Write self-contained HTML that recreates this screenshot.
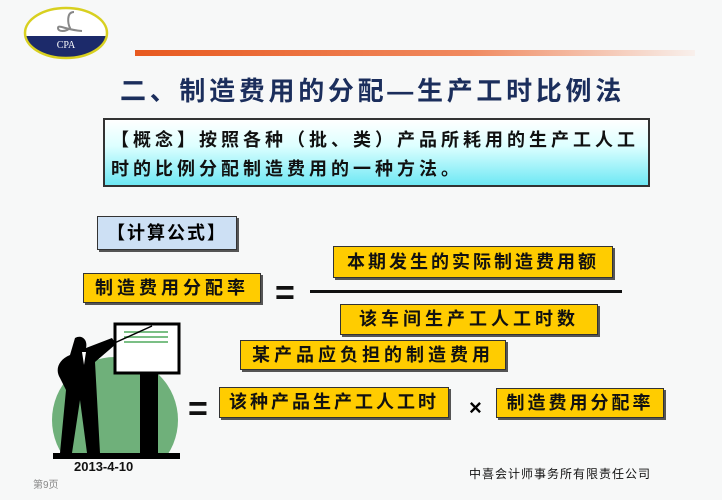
<!DOCTYPE html>
<html><head><meta charset="utf-8"><style>
body{margin:0;width:722px;height:500px;overflow:hidden;background:#f7f8f8;font-family:"Liberation Sans","Noto Sans CJK SC",sans-serif;position:relative}
.a{position:absolute}
.y{position:absolute;background:#fc0;border:1px solid #333;box-shadow:2px 2px 0 #555;font-weight:bold;font-size:18px;color:#111;text-align:center;box-sizing:border-box;letter-spacing:4px;white-space:nowrap}
.eq{position:absolute;font-size:34px;font-weight:bold;color:#111;line-height:1}
</style></head><body>
<svg class="a" style="left:0;top:0" width="722" height="500">
<defs><linearGradient id="o" x1="0" x2="1"><stop offset="0" stop-color="#e85a20"/><stop offset="0.6" stop-color="#f08a60"/><stop offset="1" stop-color="#f8f0ec"/></linearGradient>
<clipPath id="c"><ellipse cx="66" cy="33" rx="41" ry="25"/></clipPath></defs>
<ellipse cx="66" cy="33" rx="41" ry="25" fill="#fff"/>
<rect x="20" y="36" width="100" height="30" fill="#1c2a6a" clip-path="url(#c)"/>
<ellipse cx="66" cy="33" rx="41" ry="25" fill="none" stroke="#d8d020" stroke-width="2.5"/>
<path d="M74 12 C66 12 68 24 70 28 C66 32 58 32 58 28 C58 24 66 30 82 31" fill="none" stroke="#888" stroke-width="2"/>
<text x="66" y="48" font-family="Liberation Serif" font-size="10" fill="#fff" text-anchor="middle">CPA</text>
<rect x="135" y="50" width="560" height="6" fill="url(#o)"/>
<line x1="32" y1="454" x2="692" y2="454" stroke="#ccc" stroke-width="1"/>
<circle cx="115" cy="420" r="63" fill="#6fb07a"/>
<rect x="0" y="453" width="722" height="47" fill="#f7f8f8"/>
<rect x="53" y="453" width="127" height="6" fill="#000"/>
<rect x="140" y="372" width="18" height="82" fill="#000"/>
<rect x="115" y="324" width="64" height="49" fill="#fff" stroke="#000" stroke-width="3"/>
<line x1="124" y1="332" x2="168" y2="332" stroke="#7bbf85" stroke-width="2"/>
<line x1="124" y1="337" x2="168" y2="337" stroke="#7bbf85" stroke-width="2"/>
<line x1="124" y1="342" x2="168" y2="342" stroke="#7bbf85" stroke-width="2"/>
<line x1="110" y1="345" x2="152" y2="326" stroke="#000" stroke-width="1.5"/>
<path d="M75 338 C82 334 88 340 86 348 L112 338 L116 344 L95 362 L100 453 L87 453 L80 400 L72 453 L60 453 L66 390 L60 378 C55 370 58 360 70 355 Z" fill="#000"/>
<path d="M82 352 L86 352 L84 365 Z" fill="#fff"/>
</svg>
<div class="a" style="left:120px;top:71px;font-size:26px;font-weight:bold;color:#1b2e5c;letter-spacing:3.7px;white-space:nowrap">二、制造费用的分配—生产工时比例法</div>
<div class="a" style="left:103px;top:118px;width:547px;height:69px;box-sizing:border-box;border:2px solid #333;background:linear-gradient(#fff,#dff 40%,#6ee8f4);font-size:18px;font-weight:bold;color:#111;padding:6px 0 0 6px;line-height:29px;letter-spacing:4px">【概念】按照各种（批、类）产品所耗用的生产工人工<br>时的比例分配制造费用的一种方法。</div>
<div class="a" style="left:97px;top:216px;width:140px;height:34px;box-sizing:border-box;border:1px solid #333;background:#cde0f4;box-shadow:2px 2px 0 #555;font-size:18px;font-weight:bold;line-height:32px;text-align:center;letter-spacing:2px">【计算公式】</div>
<div class="y" style="left:83px;top:273px;width:178px;height:30px;line-height:28px">制造费用分配率</div>
<div class="eq" style="left:275px;top:276px">=</div>
<div class="a" style="left:310px;top:290px;width:312px;height:3px;background:#111"></div>
<div class="y" style="left:333px;top:246px;width:280px;height:32px;line-height:30px;letter-spacing:3px">本期发生的实际制造费用额</div>
<div class="y" style="left:340px;top:304px;width:258px;height:31px;line-height:29px">该车间生产工人工时数</div>
<div class="y" style="left:240px;top:340px;width:266px;height:30px;line-height:28px">某产品应负担的制造费用</div>
<div class="eq" style="left:188px;top:392px">=</div>
<div class="y" style="left:219px;top:387px;width:230px;height:31px;line-height:29px;letter-spacing:3px">该种产品生产工人工时</div>
<div class="a" style="left:469px;top:395px;font-size:22px;font-weight:bold">×</div>
<div class="y" style="left:496px;top:388px;width:168px;height:30px;line-height:28px;letter-spacing:3px">制造费用分配率</div>
<div class="a" style="left:74px;top:459px;font-size:13px;font-weight:bold;color:#111">2013-4-10</div>
<div class="a" style="left:33px;top:476px;font-size:10px;color:#888">第9页</div>
<div class="a" style="left:469px;top:465px;font-size:12px;color:#111;white-space:nowrap;letter-spacing:1px">中喜会计师事务所有限责任公司</div>
</body></html>
